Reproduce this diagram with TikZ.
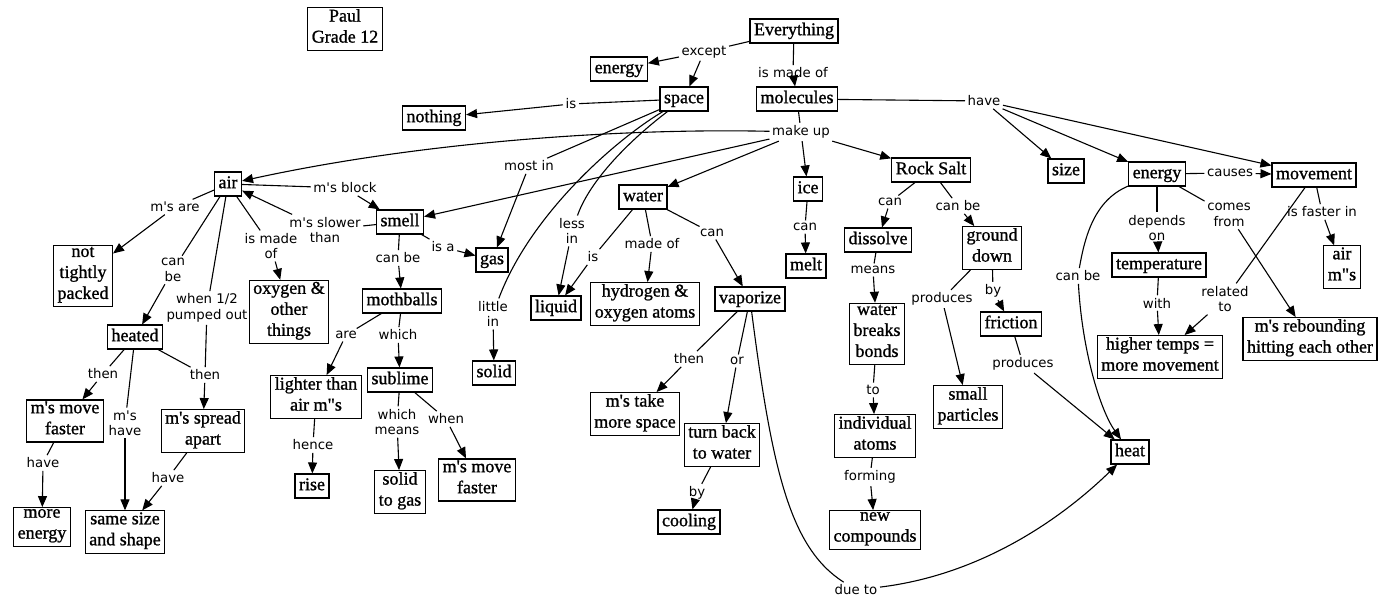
\documentclass[tikz,border=0pt]{standalone}
\usepackage{fontspec}
\usetikzlibrary{arrows.meta}
\newfontfamily\nodefont[FakeBold=1.1]{Liberation Serif}
\newfontfamily\labfont{DejaVu Sans}
\begin{document}
\begin{tikzpicture}[x=1pt,y=-1pt,
 box/.style={draw, line width=1.1pt, font=\nodefont\fontsize{18}{21}\selectfont, align=center, inner xsep=4pt, inner ysep=1.5pt, execute at begin node=\strut, execute at end node=\strut},
 lab/.style={font=\labfont\fontsize{13.3}{15.5}\selectfont, align=center, inner sep=2.5pt},
 ln/.style={line width=1.1pt},
 ar/.style={line width=1.1pt, -{Triangle[length=11pt,width=9pt]}}]
\fill[white] (0,0) rectangle (1380,604);
\useasboundingbox (0,0) rectangle (1380,604);
% ---------- concept boxes ----------
\node[box] (paul) at (345,29) {Paul\\Grade 12};
\node[box] (everything) at (794,31) {Everything};
\node[box] (energyT) at (619,69) {energy};
\node[box] (space) at (684,99) {space};
\node[box] (molecules) at (797,99) {molecules};
\node[box] (nothing) at (434,118) {nothing};
\node[box] (air) at (228,184) {air};
\node[box] (smell) at (400,222) {smell};
\node[box] (water) at (643,197) {water};
\node[box] (ice) at (808,189) {ice};
\node[box] (rocksalt) at (931,170) {Rock Salt};
\node[box] (size) at (1066,171) {size};
\node[box] (energyR) at (1157,174) {energy};
\node[box] (movement) at (1314,175) {movement};
\node[box] (ntp) at (83,276) {not\\tightly\\packed};
\node[box] (oxygen) at (289,312) {oxygen \&\\other\\things};
\node[box] (gas) at (492,260) {gas};
\node[box] (mothballs) at (402,301) {mothballs};
\node[box] (liquid) at (556,308) {liquid};
\node[box] (hydrogen) at (645,304) {hydrogen \&\\oxygen atoms};
\node[box] (melt) at (806,266) {melt};
\node[box] (dissolve) at (878,240) {dissolve};
\node[box] (ground) at (992,248) {ground\\down};
\node[box] (airms) at (1342,267) {air\\m"s};
\node[box] (temperature) at (1159,265) {temperature};
\node[box] (heated) at (135,337) {heated};
\node[box] (vaporize) at (750,299) {vaporize};
\node[box] (wbb) at (877,334) {water\\breaks\\bonds};
\node[box] (friction) at (1011,324) {friction};
\node[box] (higher) at (1160,357) {higher temps =\\more movement};
\node[box] (rebound) at (1310,339) {m's rebounding\\hitting each other};
\node[box] (solid) at (494,373) {solid};
\node[box] (lighter) at (316,397) {lighter than\\air m"s};
\node[box] (sublime) at (400,380) {sublime};
\node[box] (smallp) at (968,407) {small\\particles};
\node[box] (takemore) at (635,414) {m's take\\more space};
\node[box] (mmf1) at (65,421) {m's move\\faster};
\node[box] (spread) at (203,431) {m's spread\\apart};
\node[box] (indiv) at (875,436) {individual\\atoms};
\node[box] (turnback) at (722,445) {turn back\\to water};
\node[box] (heat) at (1130,452) {heat};
\node[box] (rise) at (312,486) {rise};
\node[box] (solidgas) at (400,492) {solid\\to gas};
\node[box] (mmf2) at (477,480) {m's move\\faster};
\node[box] (cooling) at (689,522) {cooling};
\node[box] (newcomp) at (875,530) {new\\compounds};
\node[box] (moreenergy) at (42,527) {more\\energy};
\node[box] (samesize) at (125,532) {same size\\and shape};
% ---------- link labels ----------
\node[lab] (lexcept) at (704,52) {except};
\node[lab] (lmadeof) at (793,73) {is made of};
\node[lab] (lis) at (571,104) {is};
\node[lab] (lhave) at (984,101) {have};
\node[lab] (lmakeup) at (801,132) {make up};
\node[lab] (lmostin) at (529,166) {most in};
\node[lab] (llessin) at (572,231) {less\\in};
\node[lab] (llittlein) at (493,314) {little\\in};
\node[lab] (lisW) at (593,257) {is};
\node[lab] (lmadeofW) at (652,244) {made of};
\node[lab] (lcanW) at (712,233) {can};
\node[lab] (lcanI) at (805,227) {can};
\node[lab] (lcanR) at (890,202) {can};
\node[lab] (lcanbeR) at (958,206) {can be};
\node[lab] (lmeans) at (873,270) {means};
\node[lab] (lproduces1) at (942,299) {produces};
\node[lab] (lby1) at (993,291) {by};
\node[lab] (lproduces2) at (1023,364) {produces};
\node[lab] (lto) at (873,390) {to};
\node[lab] (lforming) at (870,477) {forming};
\node[lab] (lthenV) at (689,359) {then};
\node[lab] (lor) at (737,361) {or};
\node[lab] (lby2) at (697,493) {by};
\node[lab] (ldueto) at (856,590) {due to};
\node[lab] (lcauses) at (1230,173) {causes};
\node[lab] (ldepends) at (1157,228) {depends\\on};
\node[lab] (lcomes) at (1229,215) {comes\\from};
\node[lab] (lfaster) at (1322,212) {is faster in};
\node[lab] (lcanbeE) at (1078,276) {can be};
\node[lab] (lwith) at (1157,303) {with};
\node[lab] (lrelated) at (1225,299) {related\\to};
\node[lab] (lmsare) at (175,207) {m's are};
\node[lab] (lcanbeA) at (173,270) {can\\be};
\node[lab] (lwhen) at (207,308) {when 1/2\\pumped out};
\node[lab] (lismadeA) at (271,246) {is made\\of};
\node[lab] (lslower) at (325,230) {m's slower\\than};
\node[lab] (lblock) at (345,188) {m's block};
\node[lab] (lisa) at (443,247) {is a};
\node[lab] (lcanbeS) at (398,258) {can be};
\node[lab] (lare) at (346,335) {are};
\node[lab] (lwhich) at (398,335) {which};
\node[lab] (lhence) at (313,445) {hence};
\node[lab] (lwhichmeans) at (397,422) {which\\means};
\node[lab] (lwhen2) at (446,419) {when};
\node[lab] (lthen1) at (103,374) {then};
\node[lab] (lthen2) at (205,375) {then};
\node[lab] (lmshave) at (125,423) {m's\\have};
\node[lab] (lhave1) at (43,463) {have};
\node[lab] (lhave2) at (168,478) {have};
% ---------- connectors ----------
\draw[ln] (everything) -- (lexcept);
\draw[ar] (lexcept) -- (energyT);
\draw[ar] (lexcept) -- (space);
\draw[ln] (everything) -- (lmadeof);
\draw[ar] (lmadeof) -- (molecules);
\draw[ln] (space) -- (lis);
\draw[ar] (lis) -- (nothing);
\draw[ln] (molecules) -- (lhave);
\draw[ar] (lhave) -- (size);
\draw[ar] (lhave) -- (energyR);
\draw[ar] (lhave) -- (movement);
\draw[ln] (molecules) -- (lmakeup);
\draw[ar] (lmakeup) .. controls (620,128) and (420,142) .. (air);
\draw[ar] (lmakeup) -- (smell);
\draw[ar] (lmakeup) -- (water);
\draw[ar] (lmakeup) -- (ice);
\draw[ar] (lmakeup) -- (rocksalt);
\draw[ln] (space) -- (lmostin);
\draw[ar] (lmostin) -- (gas);
\draw[ln] (space) .. controls (630,140) and (590,180) .. (llessin);
\draw[ar] (llessin) -- (liquid);
\draw[ln] (space) .. controls (615,140) and (530,215) .. (llittlein);
\draw[ar] (llittlein) -- (solid);
\draw[ln] (water) -- (lisW);
\draw[ar] (lisW) -- (liquid);
\draw[ln] (water) -- (lmadeofW);
\draw[ar] (lmadeofW) -- (hydrogen);
\draw[ln] (water) -- (lcanW);
\draw[ar] (lcanW) -- (vaporize);
\draw[ln] (ice) -- (lcanI);
\draw[ar] (lcanI) -- (melt);
\draw[ln] (rocksalt) -- (lcanR);
\draw[ar] (lcanR) -- (dissolve);
\draw[ln] (rocksalt) -- (lcanbeR);
\draw[ar] (lcanbeR) -- (ground);
\draw[ln] (dissolve) -- (lmeans);
\draw[ar] (lmeans) -- (wbb);
\draw[ln] (wbb) -- (lto);
\draw[ar] (lto) -- (indiv);
\draw[ln] (indiv) -- (lforming);
\draw[ar] (lforming) -- (newcomp);
\draw[ln] (ground) -- (lproduces1);
\draw[ar] (lproduces1) -- (smallp);
\draw[ln] (ground) -- (lby1);
\draw[ar] (lby1) -- (friction);
\draw[ln] (friction) -- (lproduces2);
\draw[ar] (lproduces2) -- (heat);
\draw[ln] (vaporize) -- (lthenV);
\draw[ar] (lthenV) -- (takemore);
\draw[ln] (vaporize) -- (lor);
\draw[ar] (lor) -- (turnback);
\draw[ln] (vaporize) .. controls (772,470) and (790,548) .. (ldueto);
\draw[ar] (ldueto) .. controls (980,575) and (1060,520) .. (heat);
\draw[ln] (turnback) -- (lby2);
\draw[ar] (lby2) -- (cooling);
\draw[ln] (energyR) -- (lcauses);
\draw[ar] (lcauses) -- (movement);
\draw[ln] (energyR) -- (ldepends);
\draw[ar] (ldepends) -- (temperature);
\draw[ln] (energyR) -- (lcomes);
\draw[ar] (lcomes) -- (rebound);
\draw[ln] (energyR) .. controls (1095,200) and (1085,235) .. (lcanbeE);
\draw[ar] (lcanbeE) .. controls (1082,350) and (1100,410) .. (heat);
\draw[ln] (temperature) -- (lwith);
\draw[ar] (lwith) -- (higher);
\draw[ln] (movement) -- (lfaster);
\draw[ar] (lfaster) -- (airms);
\draw[ln] (movement) -- (lrelated);
\draw[ar] (lrelated) -- (higher);
\draw[ln] (air) -- (lmsare);
\draw[ar] (lmsare) -- (ntp);
\draw[ln] (air) -- (lcanbeA);
\draw[ar] (lcanbeA) -- (heated);
\draw[ln] (air) -- (lwhen);
\draw[ln] (lwhen) -- (lthen2);
\draw[ln] (heated) -- (lthen2);
\draw[ar] (lthen2) -- (spread);
\draw[ln] (air) -- (lismadeA);
\draw[ar] (lismadeA) -- (oxygen);
\draw[ln] (air) -- (lblock);
\draw[ar] (lblock) -- (smell);
\draw[ln] (smell) -- (lslower);
\draw[ar] (lslower) -- (air);
\draw[ln] (smell) -- (lcanbeS);
\draw[ar] (lcanbeS) -- (mothballs);
\draw[ln] (smell) -- (lisa);
\draw[ar] (lisa) -- (gas);
\draw[ln] (mothballs) -- (lare);
\draw[ar] (lare) -- (lighter);
\draw[ln] (mothballs) -- (lwhich);
\draw[ar] (lwhich) -- (sublime);
\draw[ln] (lighter) -- (lhence);
\draw[ar] (lhence) -- (rise);
\draw[ln] (sublime) -- (lwhichmeans);
\draw[ar] (lwhichmeans) -- (solidgas);
\draw[ln] (sublime) -- (lwhen2);
\draw[ar] (lwhen2) -- (mmf2);
\draw[ln] (heated) -- (lthen1);
\draw[ar] (lthen1) -- (mmf1);
\draw[ln] (heated) -- (lmshave);
\draw[ar] (lmshave) -- (samesize);
\draw[ln] (mmf1) -- (lhave1);
\draw[ar] (lhave1) -- (moreenergy);
\draw[ln] (spread) -- (lhave2);
\draw[ar] (lhave2) -- (samesize);
\end{tikzpicture}
\end{document}
